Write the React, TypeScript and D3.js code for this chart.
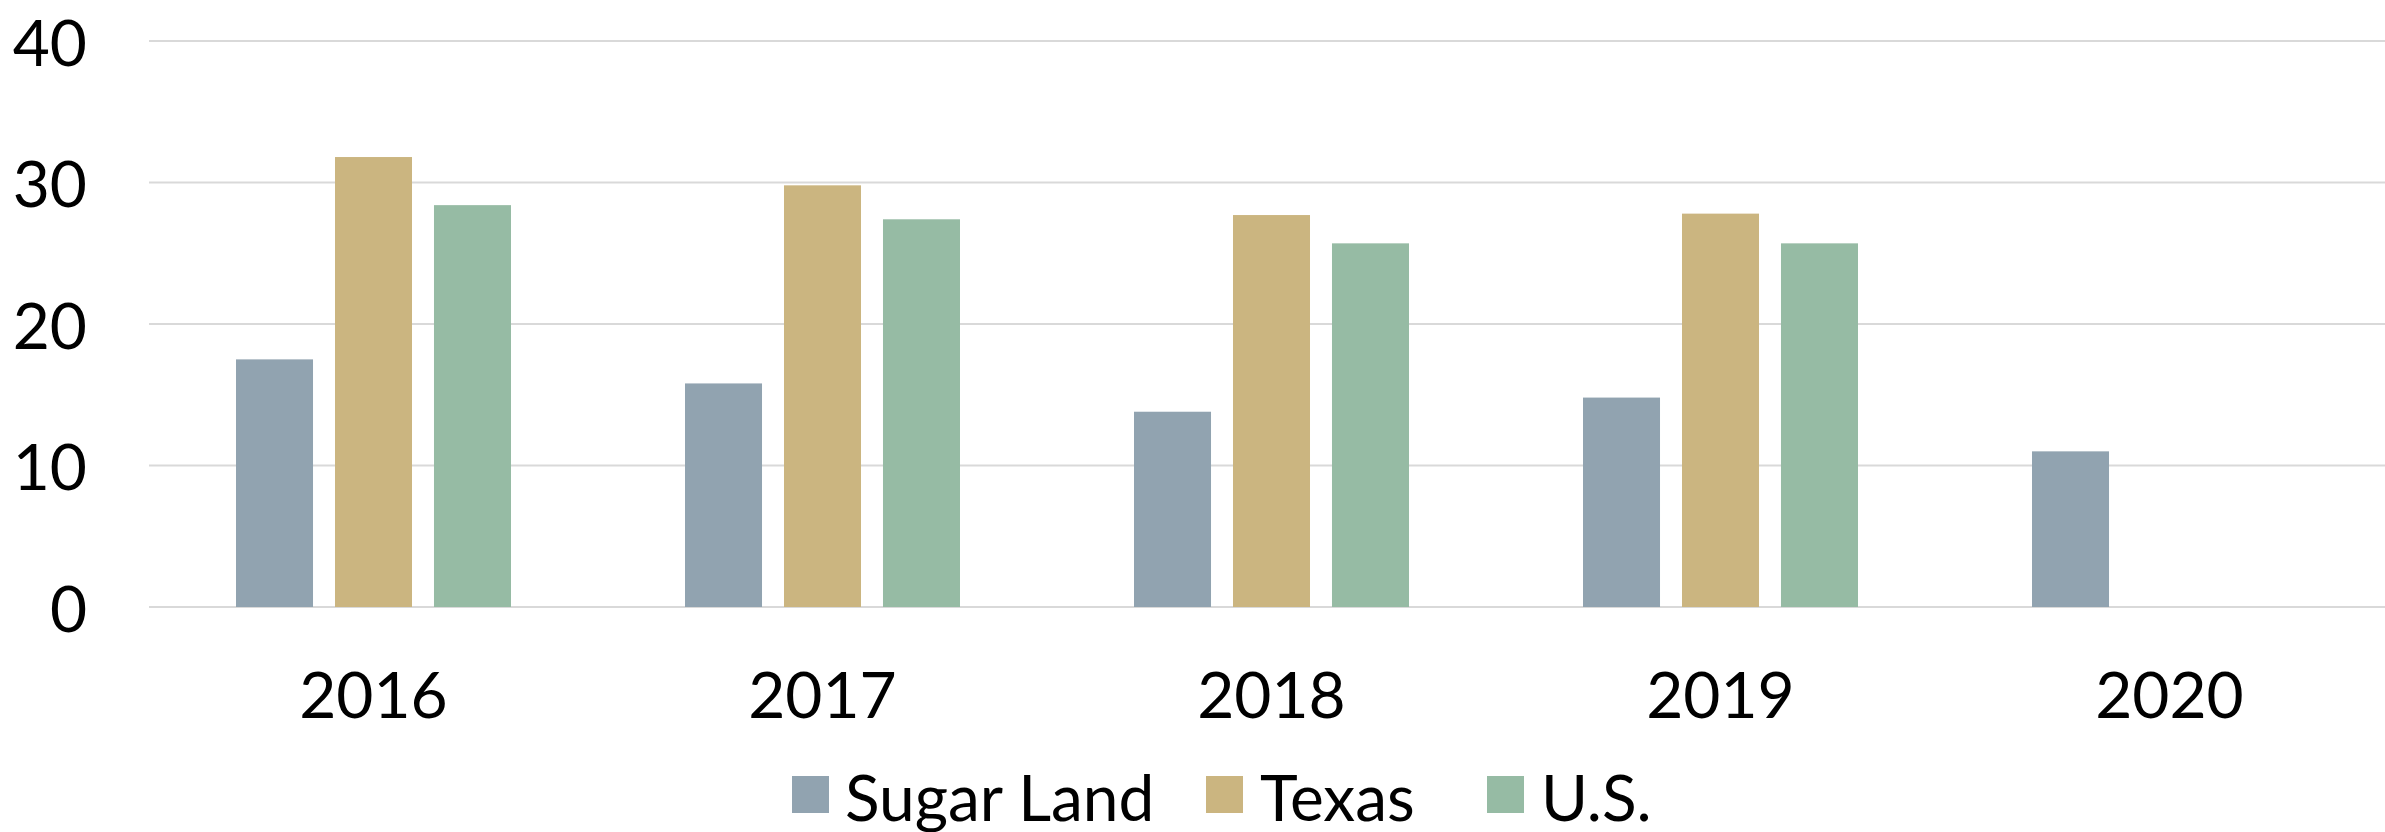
import React from "react";
import * as d3 from "d3";

const years = ["2016", "2017", "2018", "2019", "2020"];
const seriesNames = ["Sugar Land", "Texas", "U.S."];
const sugarLand = [17.5, 15.8, 13.8, 14.8, 11.0];
const texas = [31.8, 29.8, 27.7, 27.8, null];
const us = [28.4, 27.4, 25.7, 25.7, null];
const yTicks = [0, 10, 20, 30, 40];
const colors = ["#91a3b0", "#cbb580", "#96bba4"];

const W = 2385;
const H = 832;
const FONT = "Lato, 'Open Sans', sans-serif";

export default function App() {
  const values = [sugarLand, texas, us];

  const x0 = d3.scaleBand<string>().domain(years).range([149, 2394]).padding(0);
  const x1 = d3
    .scaleBand<string>()
    .domain(seriesNames)
    .range([87, x0.bandwidth() - 87])
    .paddingInner(0.222)
    .paddingOuter(0);
  const y = d3.scaleLinear().domain([0, 40]).range([607, 41]);

  // legend layout
  const legendItems = [
    { name: "Sugar Land", sq: 792, tx: 845 },
    { name: "Texas", sq: 1206, tx: 1260 },
    { name: "U.S.", sq: 1487, tx: 1541 },
  ];

  return (
    <svg
      width={W}
      height={H}
      style={{ position: "absolute", left: 0, top: 0, background: "#fff" }}
    >
      <rect width={W} height={H} fill="#fff" />
      {yTicks.map((t) => (
        <g key={t}>
          <line
            x1={149}
            x2={W}
            y1={y(t)}
            y2={y(t)}
            stroke="#d9d9d9"
            strokeWidth={2}
          />
          <text
            x={87}
            y={y(t)}
            textAnchor="end"
            dominantBaseline="central"
            fontFamily={FONT}
            fontSize={64}
            fill="#000"
          >
            {t}
          </text>
        </g>
      ))}

      {years.map((yr, i) => (
        <g key={yr} transform={`translate(${x0(yr)},0)`}>
          {seriesNames.map((s, j) => {
            const v = values[j][i];
            if (v == null) return null;
            return (
              <rect
                key={s}
                x={x1(s)}
                y={y(v)}
                width={x1.bandwidth()}
                height={y(0) - y(v)}
                fill={colors[j]}
              />
            );
          })}
          <text
            x={x0.bandwidth() / 2}
            y={718}
            textAnchor="middle"
            fontFamily={FONT}
            fontSize={64}
            fill="#000"
          >
            {yr}
          </text>
        </g>
      ))}

      {legendItems.map((it, j) => (
        <g key={it.name}>
          <rect x={it.sq} y={776} width={37} height={37} fill={colors[j]} />
          <text
            x={it.tx}
            y={796}
            dominantBaseline="central"
            fontFamily={FONT}
            fontSize={64}
            fill="#000"
          >
            {it.name}
          </text>
        </g>
      ))}
    </svg>
  );
}
